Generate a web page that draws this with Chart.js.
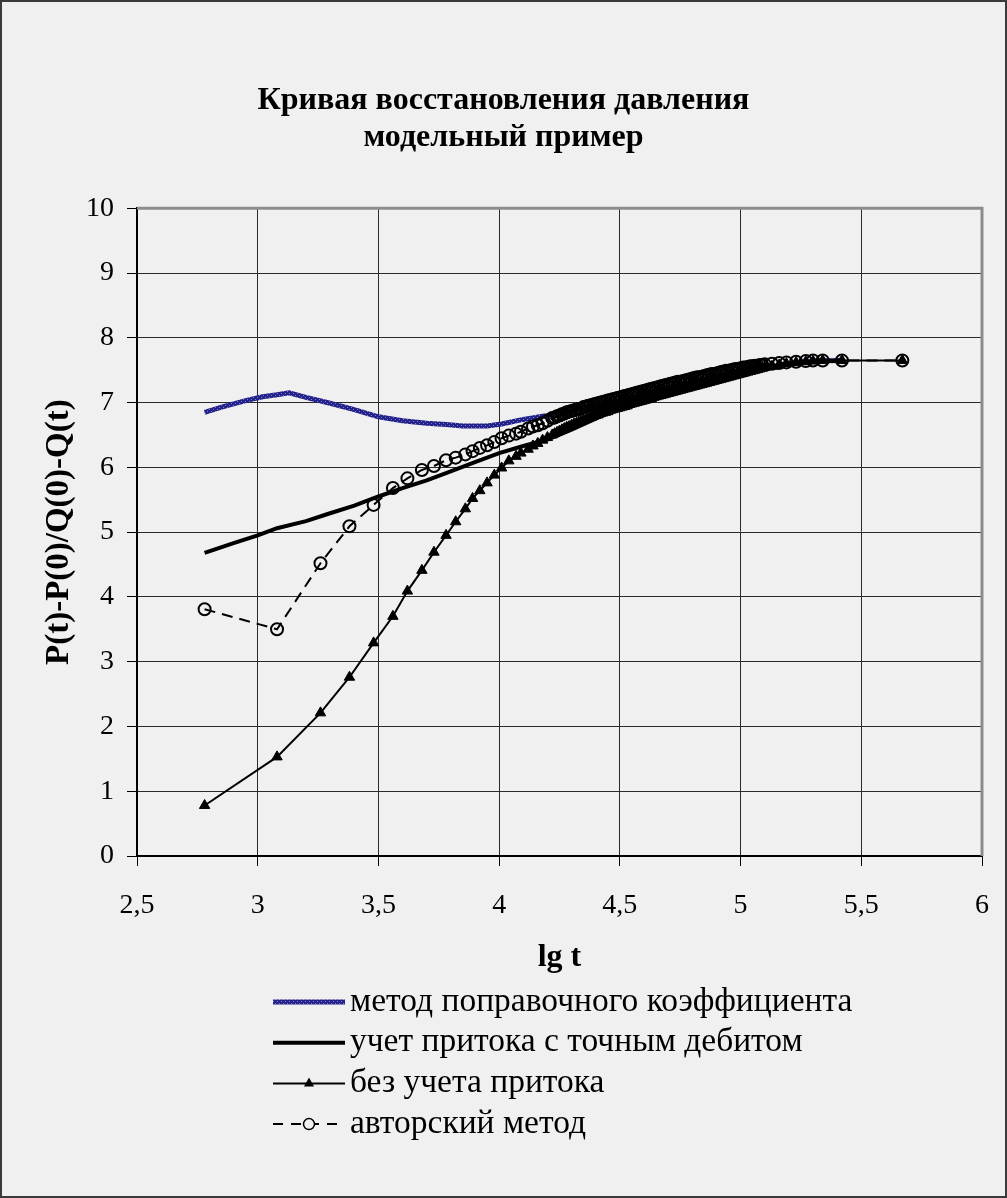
<!DOCTYPE html>
<html lang="ru">
<head>
<meta charset="utf-8">
<title>Кривая восстановления давления</title>
<script src="https://cdn.jsdelivr.net/npm/chart.js@4.4.1/dist/chart.umd.min.js"></script>
<style>
  html, body { margin: 0; padding: 0; background: #f0f0f0; }
  canvas { display: block; }
</style>
</head>
<body>
<canvas id="kvdChart" width="1007" height="1198"></canvas>
<script>
// lg t для метода поправочного коэффициента
const blueLgT = [2.78, 2.85, 2.95, 3.02, 3.08, 3.13, 3.2, 3.3, 3.4, 3.5, 3.6, 3.7, 3.78, 3.85, 3.95,
  4.01, 4.1, 4.2, 4.3, 4.4, 4.5, 4.6, 4.7, 4.8, 4.9, 5.0, 5.1, 5.2, 5.3, 5.42];
const blueP = [6.85, 6.93, 7.03, 7.09, 7.12, 7.15, 7.08, 6.99, 6.89, 6.78, 6.72, 6.68, 6.66, 6.64, 6.64,
  6.67, 6.74, 6.8, 6.88, 6.96, 7.02, 7.12, 7.22, 7.31, 7.4, 7.48, 7.55, 7.6, 7.64, 7.65];

// учет притока с точным дебитом
const exactLgT = [2.78, 2.9, 3.0, 3.08, 3.2, 3.29, 3.4, 3.5, 3.6, 3.7, 3.78, 3.9, 4.0, 4.1, 4.2,
  4.3, 4.4, 4.5, 4.6, 4.7, 4.8, 4.9, 5.0, 5.1, 5.2, 5.3, 5.42];
const exactP = [4.68, 4.83, 4.95, 5.06, 5.17, 5.28, 5.41, 5.55, 5.68, 5.8, 5.91, 6.08, 6.22, 6.33, 6.43,
  6.58, 6.75, 6.93, 7.06, 7.18, 7.29, 7.38, 7.47, 7.54, 7.6, 7.63, 7.65];

// общие моменты времени (lg t) для двух рядов с маркерами
const lgT = [2.78, 3.08, 3.26, 3.38, 3.48, 3.56, 3.62, 3.68, 3.73, 3.78, 3.82, 3.86, 3.89, 3.92, 3.95,
  3.98, 4.01, 4.04, 4.07, 4.09, 4.12, 4.14, 4.16, 4.18, 4.20, 4.22,
  4.23, 4.24, 4.25, 4.26, 4.27, 4.28, 4.29, 4.30, 4.31, 4.32, 4.33, 4.34, 4.35, 4.36, 4.37, 4.38, 4.39, 4.40,
  4.41, 4.42, 4.43, 4.44, 4.45, 4.46, 4.47, 4.48, 4.49, 4.50, 4.51, 4.52, 4.53, 4.54, 4.55, 4.56, 4.57, 4.58, 4.59, 4.60,
  4.61, 4.62, 4.63, 4.64, 4.65, 4.66, 4.67, 4.68, 4.69, 4.70, 4.71, 4.72, 4.73, 4.74, 4.75, 4.76, 4.77, 4.78, 4.79, 4.80,
  4.81, 4.82, 4.83, 4.84, 4.85, 4.86, 4.87, 4.88, 4.89, 4.90, 4.91, 4.92, 4.93, 4.94, 4.95, 4.96, 4.97, 4.98, 4.99, 5.00,
  5.01, 5.02, 5.03, 5.04, 5.05, 5.06, 5.07, 5.08, 5.09, 5.10,
  5.13, 5.16, 5.19, 5.23, 5.27, 5.30, 5.34, 5.42, 5.67];

// без учета притока
const noInflowP = [0.78, 1.53, 2.21, 2.76, 3.29, 3.70, 4.09, 4.41, 4.69, 4.95, 5.16, 5.36, 5.52, 5.64, 5.76,
  5.88, 5.99, 6.1, 6.17, 6.22, 6.28, 6.33, 6.37, 6.42, 6.46, 6.5,
  6.52, 6.54, 6.56, 6.58, 6.60, 6.62, 6.63, 6.65, 6.67, 6.68, 6.70, 6.71, 6.73, 6.74, 6.76, 6.77, 6.79, 6.80,
  6.81, 6.83, 6.84, 6.85, 6.86, 6.88, 6.89, 6.90, 6.91, 6.92, 6.93, 6.94, 6.95, 6.97, 6.98, 6.99, 7.00, 7.01, 7.02, 7.03,
  7.04, 7.05, 7.06, 7.08, 7.09, 7.10, 7.11, 7.12, 7.13, 7.14, 7.15, 7.16, 7.17, 7.18, 7.19, 7.20, 7.21, 7.22, 7.23, 7.24,
  7.25, 7.26, 7.27, 7.28, 7.29, 7.30, 7.31, 7.32, 7.33, 7.34, 7.35, 7.36, 7.37, 7.38, 7.39, 7.40, 7.41, 7.42, 7.43, 7.44,
  7.45, 7.46, 7.47, 7.48, 7.49, 7.50, 7.51, 7.52, 7.53, 7.54,
  7.56, 7.58, 7.6, 7.62, 7.63, 7.64, 7.65, 7.65, 7.65];

// авторский метод
const authorP = [3.81, 3.50, 4.52, 5.09, 5.42, 5.68, 5.83, 5.96, 6.02, 6.11, 6.15, 6.2, 6.25, 6.3, 6.34,
  6.39, 6.45, 6.49, 6.52, 6.55, 6.6, 6.63, 6.65, 6.68, 6.72, 6.76,
  6.77, 6.79, 6.80, 6.82, 6.83, 6.85, 6.86, 6.87, 6.88, 6.89, 6.90, 6.91, 6.93, 6.94, 6.95, 6.96, 6.97, 6.98,
  6.99, 7.00, 7.01, 7.02, 7.03, 7.04, 7.05, 7.06, 7.07, 7.08, 7.09, 7.10, 7.11, 7.12, 7.13, 7.14, 7.15, 7.16, 7.17, 7.18,
  7.19, 7.20, 7.21, 7.22, 7.23, 7.24, 7.25, 7.26, 7.27, 7.28, 7.29, 7.30, 7.31, 7.32, 7.32, 7.33, 7.34, 7.35, 7.36, 7.37,
  7.38, 7.39, 7.39, 7.40, 7.41, 7.42, 7.43, 7.44, 7.44, 7.45, 7.46, 7.47, 7.48, 7.49, 7.49, 7.50, 7.51, 7.52, 7.52, 7.53,
  7.54, 7.54, 7.55, 7.56, 7.56, 7.57, 7.57, 7.58, 7.58, 7.59,
  7.6, 7.61, 7.62, 7.63, 7.64, 7.65, 7.65, 7.65, 7.65];

const seriesNames = [
  'метод поправочного коэффициента',
  'учет притока с точным дебитом',
  'без учета притока',
  'авторский метод',
];

const FONT = "'Liberation Serif', 'Times New Roman', serif";
Chart.defaults.font.family = FONT;
Chart.defaults.color = '#000';

function toPoints(xs, ys) {
  return xs.map((x, i) => ({ x: x, y: ys[i] }));
}

// штриховка синей линии как в Excel
function makeBluePattern() {
  const c = document.createElement('canvas');
  c.width = 4;
  c.height = 4;
  const g = c.getContext('2d');
  g.fillStyle = '#22228a';
  g.fillRect(0, 0, 4, 4);
  g.fillStyle = '#7f7fc8';
  g.fillRect(1, 1, 1, 1);
  g.fillRect(3, 3, 1, 1);
  return g.createPattern(c, 'repeat');
}

const ctx = document.getElementById('kvdChart').getContext('2d');
const bluePattern = makeBluePattern();

// фон, рамка и легенда
const framePlugin = {
  id: 'frame',
  beforeDraw(chart) {
    const c = chart.ctx;
    c.save();
    c.fillStyle = '#f0f0f0';
    c.fillRect(0, 0, chart.width, chart.height);
    c.strokeStyle = '#3a3a3a';
    c.lineWidth = 2;
    c.strokeRect(1, 1, chart.width - 2, chart.height - 2);
    c.restore();
  },
  afterDatasetsDraw(chart) {
    const a = chart.chartArea;
    const c = chart.ctx;
    c.save();
    c.strokeStyle = '#8c8c8c';
    c.lineWidth = 3;
    c.beginPath();
    c.moveTo(a.left, a.top);
    c.lineTo(a.right, a.top);
    c.lineTo(a.right, a.bottom);
    c.stroke();
    c.restore();
  },
  afterDraw(chart) {
    const c = chart.ctx;
    const x0 = 273, x1 = 345, top = 1002, step = 40.7;
    c.save();
    c.font = '33.5px ' + FONT;
    c.textBaseline = 'middle';
    c.fillStyle = '#000';
    seriesNames.forEach((name, i) => {
      const y = top + i * step;
      c.beginPath();
      c.setLineDash([]);
      c.strokeStyle = '#000';
      c.lineWidth = 2;
      if (i === 0) {
        c.strokeStyle = bluePattern;
        c.lineWidth = 5;
      } else if (i === 1) {
        c.lineWidth = 4;
      } else if (i === 3) {
        c.setLineDash([10, 8]);
      }
      c.moveTo(x0, y);
      c.lineTo(x1, y);
      c.stroke();
      c.setLineDash([]);
      const mx = (x0 + x1) / 2;
      if (i === 2) {
        c.fillStyle = '#000';
        c.beginPath();
        c.moveTo(mx, y - 6);
        c.lineTo(mx + 5, y + 3);
        c.lineTo(mx - 5, y + 3);
        c.closePath();
        c.fill();
      }
      if (i === 3) {
        c.fillStyle = '#f0f0f0';
        c.beginPath();
        c.arc(mx, y, 5.5, 0, Math.PI * 2);
        c.fill();
        c.lineWidth = 1.5;
        c.stroke();
      }
      c.fillStyle = '#000';
      c.fillText(name, x1 + 5, y);
    });
    c.restore();
  },
};

const myChart = new Chart(ctx, {
  type: 'scatter',
  data: {
    datasets: [
      {
        label: seriesNames[0],
        data: toPoints(blueLgT, blueP),
        showLine: true,
        borderColor: bluePattern,
        borderWidth: 5,
        pointRadius: 0,
        order: 4,
      },
      {
        label: seriesNames[1],
        data: toPoints(exactLgT, exactP),
        showLine: true,
        borderColor: '#000',
        borderWidth: 4,
        pointRadius: 0,
        order: 3,
      },
      {
        label: seriesNames[2],
        data: toPoints(lgT, noInflowP),
        showLine: true,
        borderColor: '#000',
        borderWidth: 2,
        pointStyle: 'triangle',
        pointRadius: 6,
        pointBackgroundColor: '#000',
        pointBorderColor: '#000',
        pointBorderWidth: 1,
        order: 2,
      },
      {
        label: seriesNames[3],
        data: toPoints(lgT, authorP),
        showLine: true,
        borderColor: '#000',
        borderWidth: 2,
        borderDash: [11, 7],
        pointStyle: 'circle',
        pointRadius: 6,
        pointBackgroundColor: 'rgba(0,0,0,0)',
        pointBorderColor: '#000',
        pointBorderWidth: 2,
        order: 1,
      },
    ],
  },
  options: {
    responsive: false,
    animation: false,
    devicePixelRatio: 1,
    layout: {
      padding: { left: 25, right: 25, top: 0, bottom: 221 },
    },
    plugins: {
      legend: { display: false },
      tooltip: { enabled: false },
      title: {
        display: true,
        text: ['Кривая восстановления давления', 'модельный пример'],
        font: { size: 32, weight: 'bold', lineHeight: 1.16 },
        color: '#000',
        padding: { top: 82, bottom: 52 },
      },
    },
    scales: {
      x: {
        type: 'linear',
        min: 2.5,
        max: 6,
        ticks: {
          stepSize: 0.5,
          padding: 23,
          font: { size: 28 },
          color: '#000',
          callback: (v) => String(v).replace('.', ','),
        },
        grid: { color: '#2a2a2a', lineWidth: 1, tickLength: 10, tickColor: '#000' },
        border: { color: '#000', width: 2 },
        title: {
          display: true,
          text: 'lg t',
          font: { size: 32, weight: 'bold' },
          color: '#000',
          padding: { top: 0, bottom: 0 },
        },
        afterFit(scale) {
          scale.height = 121;
          scale.paddingLeft = 0;
          scale.paddingRight = 0;
        },
      },
      y: {
        type: 'linear',
        min: 0,
        max: 10,
        ticks: {
          stepSize: 1,
          padding: 13,
          font: { size: 28 },
          color: '#000',
        },
        grid: { color: '#2a2a2a', lineWidth: 1, tickLength: 10, tickColor: '#000' },
        border: { color: '#000', width: 2 },
        title: {
          display: true,
          text: 'P(t)-P(0)/Q(0)-Q(t)',
          font: { size: 33, weight: 'bold' },
          color: '#000',
          padding: { top: 15, bottom: 0 },
        },
        afterFit(scale) {
          scale.width = 112;
        },
      },
    },
  },
  plugins: [framePlugin],
});
</script>
</body>
</html>
